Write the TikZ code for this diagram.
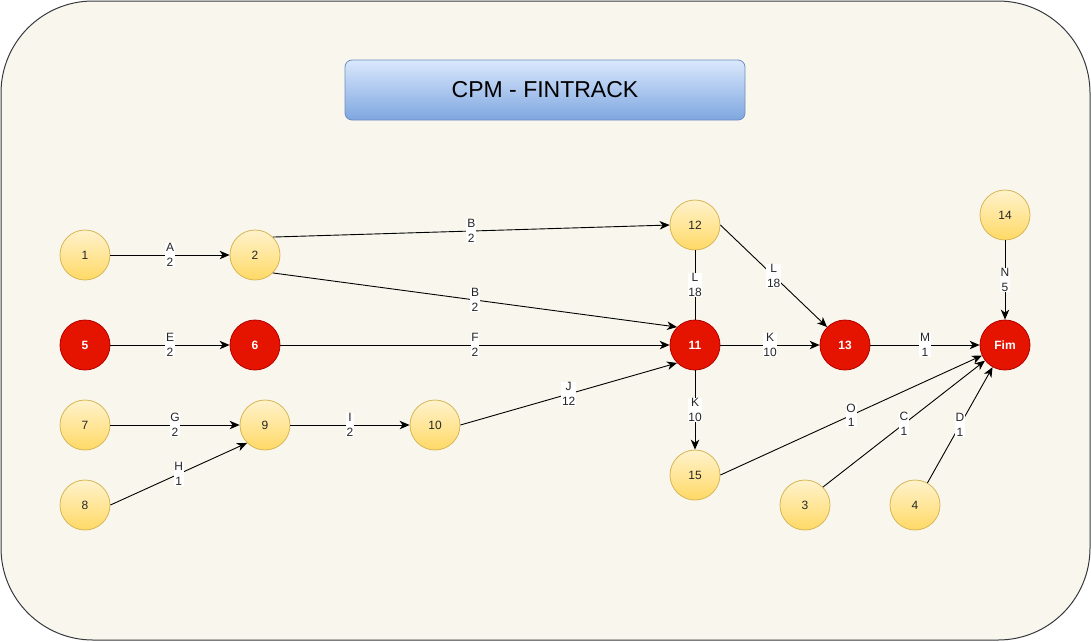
\documentclass[tikz,border=0pt]{standalone}
\usepackage{fontspec}
\setmainfont{Liberation Sans}
\usetikzlibrary{arrows.meta}
\definecolor{bgfill}{HTML}{F9F7ED}
\definecolor{bgline}{HTML}{36393D}
\definecolor{ytop}{HTML}{FFF2CC}
\definecolor{ybot}{HTML}{FFD966}
\definecolor{yline}{HTML}{D6B656}
\definecolor{rfill}{HTML}{E51400}
\definecolor{rline}{HTML}{B20000}
\definecolor{ttop}{HTML}{DAE8FC}
\definecolor{tbot}{HTML}{7EA6E0}
\definecolor{tline}{HTML}{6C8EBF}
\begin{document}
\begin{tikzpicture}[x=1pt,y=-1pt,
  ev/.style={circle, minimum size=50pt, inner sep=0pt, draw=yline, line width=0.8pt,
    top color=ytop, bottom color=ybot, font=\fontsize{12}{14}\selectfont, text=black!85},
  crit/.style={circle, minimum size=50pt, inner sep=0pt, draw=rline, line width=0.8pt,
    fill=rfill, font=\fontsize{12}{14}\selectfont\bfseries, text=white},
  ln/.style={line width=0.9pt, draw=black},
  arr/.style={ln, -{Stealth[length=10pt,width=8.5pt,inset=3pt]}},
  lbl/.style={fill=white, align=center, inner xsep=0.8pt, inner ysep=0.5pt,
    font=\fontsize{12}{14.5}\selectfont, text=black!85},
  titlebox/.style={draw=tline, line width=0.8pt, rounded corners=7pt, top color=ttop, bottom color=tbot,
    minimum width=400pt, minimum height=60pt, font=\fontsize{23}{27}\selectfont}
]
\useasboundingbox (0,0) rectangle (1091,641);
\draw[draw=bgline, fill=bgfill, line width=1pt, rounded corners=92pt] (1,1) rectangle (1090,640);

\node[titlebox] (title) at (545,90) {CPM - FINTRACK};

\node[ev] (n1) at (85,255) {1};
\node[ev] (n2) at (255,255) {2};
\node[ev] (n12) at (695,225) {12};
\node[ev] (n14) at (1005,215) {14};
\node[crit] (n5) at (85,345) {5};
\node[crit] (n6) at (255,345) {6};
\node[crit] (n11) at (695,345) {11};
\node[crit] (n13) at (845,345) {13};
\node[crit] (fim) at (1005,345) {Fim};
\node[ev] (n7) at (85,425) {7};
\node[ev] (n9) at (265,425) {9};
\node[ev] (n10) at (435,425) {10};
\node[ev] (n8) at (85,505) {8};
\node[ev] (n15) at (695,475) {15};
\node[ev] (n3) at (805,505) {3};
\node[ev] (n4) at (915,505) {4};

\draw[arr] (n1) -- node[lbl]{A\\2} (n2);
\draw[arr] (n2.north east) -- node[lbl]{B\\2} (n12.west);
\draw[arr] (n2.south east) -- node[lbl]{B\\2} (n11.north west);
\draw[arr] (n5) -- node[lbl]{E\\2} (n6);
\draw[arr] (n6) -- node[lbl]{F\\2} (n11);
\draw[arr] (n7) -- node[lbl]{G\\2} (n9);
\draw[arr] (n8.east) -- node[lbl]{H\\1} (n9.south west);
\draw[arr] (n9) -- node[lbl]{I\\2} (n10);
\draw[arr] (n10.east) -- node[lbl]{J\\12} (n11.south west);
\draw[ln] (n12) -- node[lbl]{L\\18} (n11);
\draw[arr] (n12.east) -- node[lbl]{L\\18} (n13.north west);
\draw[arr] (n11) -- node[lbl]{K\\10} (n13);
\draw[arr] (n11) -- node[lbl]{K\\10} (n15);
\draw[arr] (n13) -- node[lbl]{M\\1} (fim);
\draw[arr] (n14) -- node[lbl]{N\\5} (fim);
\draw[arr] (n15.east) -- node[lbl]{O\\1} (fim);
\draw[arr] (n3.north east) -- node[lbl]{C\\1} (fim);
\draw[arr] (n4) -- node[lbl]{D\\1} (fim);
\end{tikzpicture}
\end{document}
